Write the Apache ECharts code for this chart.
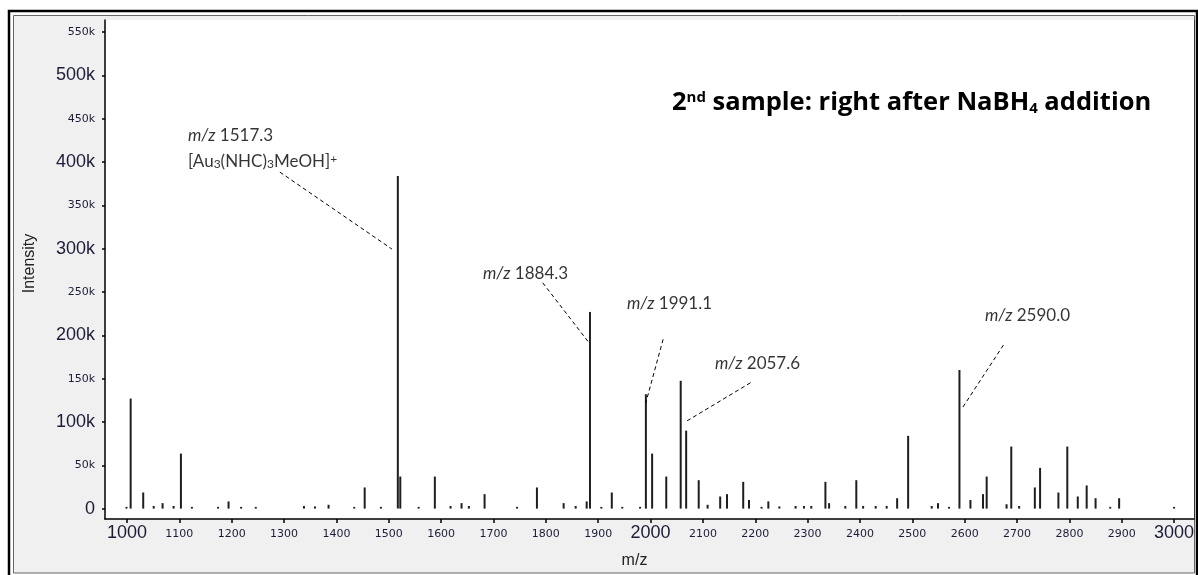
<!DOCTYPE html>
<html><head><meta charset="utf-8">
<script src="https://cdn.jsdelivr.net/npm/echarts@6/dist/echarts.min.js"></script>
<style>html,body{margin:0;padding:0;background:#fff}#c{width:1198px;height:575px}</style>
</head><body><div id="c"></div>
<script>
// Peak positions (m/z) and intensities (counts)
const mz = [999, 1007, 1031, 1051, 1068, 1089, 1103, 1124, 1174, 1194, 1218, 1246, 1338, 1359, 1385, 1434, 1454, 1485,
  1517.3, 1522, 1557, 1588, 1618, 1639, 1653, 1683, 1745, 1783, 1834, 1857, 1878, 1884.3, 1906, 1926, 1946, 1980,
  1991.1, 2003, 2030, 2057.6, 2068, 2092, 2109, 2133, 2146, 2177, 2188, 2212, 2225, 2246, 2277, 2293, 2307, 2334,
  2341, 2372, 2393, 2406, 2430, 2451, 2471, 2492, 2537, 2549, 2570, 2590.0, 2611, 2635, 2642, 2680, 2689, 2704,
  2734, 2744, 2779, 2796, 2816, 2833, 2850, 2878, 2895, 3000];
const intensity = [2000, 127000, 18600, 3000, 6300, 3000, 63500, 2000, 2000, 8300, 2000, 2000, 3000, 2500, 4400, 2000, 24400, 2000,
  384000, 37000, 2000, 37000, 3000, 6300, 3000, 16700, 2000, 24400, 6300, 3000, 8300, 227000, 2000, 18600, 2000, 2000,
  132000, 63500, 37000, 147500, 90000, 32800, 4400, 14000, 16700, 30900, 10000, 2000, 8300, 2500, 3000, 3000, 3000, 30900,
  6300, 3000, 32800, 3000, 3000, 3000, 12000, 84000, 3000, 6300, 2000, 160000, 10000, 16700, 37000, 5000, 71600, 3000,
  24400, 47000, 18600, 71600, 14000, 26700, 12000, 2000, 12000, 2000];

// Annotations
const annoText = ['{i|m/z} 1517.3', '[Au{s|3}(NHC){s|3}MeOH]{p|+}', '{i|m/z} 1884.3', '{i|m/z} 1991.1', '{i|m/z} 2057.6', '{i|m/z} 2590.0'];
const annoMz = [1116.5, 1116.5, 1679.9, 1954.9, 2123.0, 2638.6];
const annoInt = [431000, 401000, 271900, 237300, 168000, 223400];
const leaderFrom = [[1292, 388400], [1794, 260700], [2024, 195400], [2191, 145300], [2674, 188800]];
const leaderTo = [[1506, 299600], [1881, 192600], [1991, 122200], [2067, 100300], [2595, 115700]];

const titleText = '{b|2}{sup|nd}{b| sample: right after NaBH}{sub|4}{b| addition}';
const xName = 'm/z';
const yName = 'Intensity';

const chart = echarts.init(document.getElementById('c'), null, {renderer: 'canvas'});
const labelColor = '#1c1c38';
const annoFont = 'Lato, "Open Sans", sans-serif';
const titleFont = '"Open Sans", Lato, sans-serif';

chart.setOption({
  animation: false,
  backgroundColor: '#fff',
  graphic: [
    {type: 'rect', z: -10, silent: true, shape: {x: 9, y: 11, width: 1188, height: 570},
      style: {fill: '#fff', stroke: '#000', lineWidth: 2.5}},
    {type: 'rect', z: -9, silent: true, shape: {x: 13.5, y: 15.5, width: 1181, height: 557.5},
      style: {fill: '#f0f0f0', stroke: '#666', lineWidth: 1}}
  ],
  title: {
    left: 667, top: 85,
    text: titleText,
    textStyle: {
      rich: {
        b: {fontFamily: titleFont, fontWeight: 'bold', fontSize: 25.5, color: '#000'},
        sup: {fontFamily: titleFont, fontWeight: 'bold', fontSize: 15, color: '#000', verticalAlign: 'top'},
        sub: {fontFamily: titleFont, fontWeight: 'bold', fontSize: 15, color: '#000', verticalAlign: 'bottom'}
      }
    }
  },
  grid: {left: 105, right: 4, top: 20, bottom: 56, show: true, backgroundColor: '#fff', borderWidth: 0},
  xAxis: {
    type: 'value', min: 958, max: 3038, splitNumber: 21,
    name: xName, nameLocation: 'middle', nameGap: 34,
    nameTextStyle: {fontFamily: 'Liberation Sans, Arial', fontSize: 16, color: '#222', padding: [0, 30, 0, 0]},
    axisLine: {show: true, onZero: false, lineStyle: {color: '#000', width: 1.5}},
    axisTick: {show: true, length: 4, lineStyle: {color: '#000', width: 1.5}},
    splitLine: {show: false},
    axisLabel: {
      showMinLabel: false, showMaxLabel: false, margin: 5,
      formatter: v => (v % 1000 === 0 ? '{b|' + v + '}' : (v % 100 === 0 ? '{s|' + v + '}' : '')),
      rich: {
        b: {fontFamily: 'Liberation Sans, Arial', fontSize: 18, color: labelColor},
        s: {fontFamily: 'DejaVu Sans', fontSize: 11, color: labelColor, padding: [5, 0, 0, 0]}
      }
    }
  },
  yAxis: [{
    type: 'value', min: -12000, max: 564000, splitNumber: 12,
    name: yName, nameLocation: 'middle', nameGap: 67, nameRotate: 90,
    nameTextStyle: {fontFamily: 'Liberation Sans, Arial', fontSize: 16, color: '#222', padding: [0, 0, 0, 12]},
    axisLine: {show: true, onZero: false, lineStyle: {color: '#000', width: 1.5}},
    axisTick: {show: true, length: 3, lineStyle: {color: '#000', width: 1.5}},
    splitLine: {show: false},
    axisLabel: {
      showMinLabel: false, showMaxLabel: false, margin: 10,
      formatter: v => (v % 100000 === 0 ? '{b|' + (v === 0 ? '0' : v / 1000 + 'k') + '}' : (v % 50000 === 0 ? '{s|' + v / 1000 + 'k}' : '')),
      rich: {
        b: {fontFamily: 'Liberation Sans, Arial', fontSize: 18, color: labelColor},
        s: {fontFamily: 'DejaVu Sans', fontSize: 11, color: labelColor}
      }
    }
  }, {
    type: 'value', min: -12000, max: 564000, position: 'right',
    axisLine: {show: true, onZero: false, lineStyle: {color: '#333', width: 1}},
    axisTick: {show: false}, axisLabel: {show: false}, splitLine: {show: false}
  }],
  series: [{
    type: 'bar',
    barWidth: 2,
    itemStyle: {color: '#1e1e1e'},
    data: mz.map((m, i) => [m, intensity[i]]),
    silent: true
  }, {
    type: 'scatter',
    symbolSize: 0,
    silent: true,
    data: annoMz.map((m, i) => [m, annoInt[i]]),
    label: {
      show: true, position: 'right', distance: 0,
      formatter: p => annoText[p.dataIndex],
      fontFamily: annoFont, fontSize: 17, color: '#000',
      rich: {
        i: {fontFamily: annoFont, fontSize: 17, fontStyle: 'italic', color: '#000'},
        s: {fontFamily: annoFont, fontSize: 12, color: '#000', verticalAlign: 'bottom'},
        p: {fontFamily: annoFont, fontSize: 12, color: '#000', verticalAlign: 'top'}
      }
    },
    markLine: {
      silent: true, symbol: ['none', 'none'],
      label: {show: false},
      lineStyle: {type: [4, 3], color: '#000', width: 1},
      emphasis: {disabled: true},
      data: leaderFrom.map((f, i) => [{coord: f}, {coord: leaderTo[i]}])
    }
  }]
});
</script></body></html>
